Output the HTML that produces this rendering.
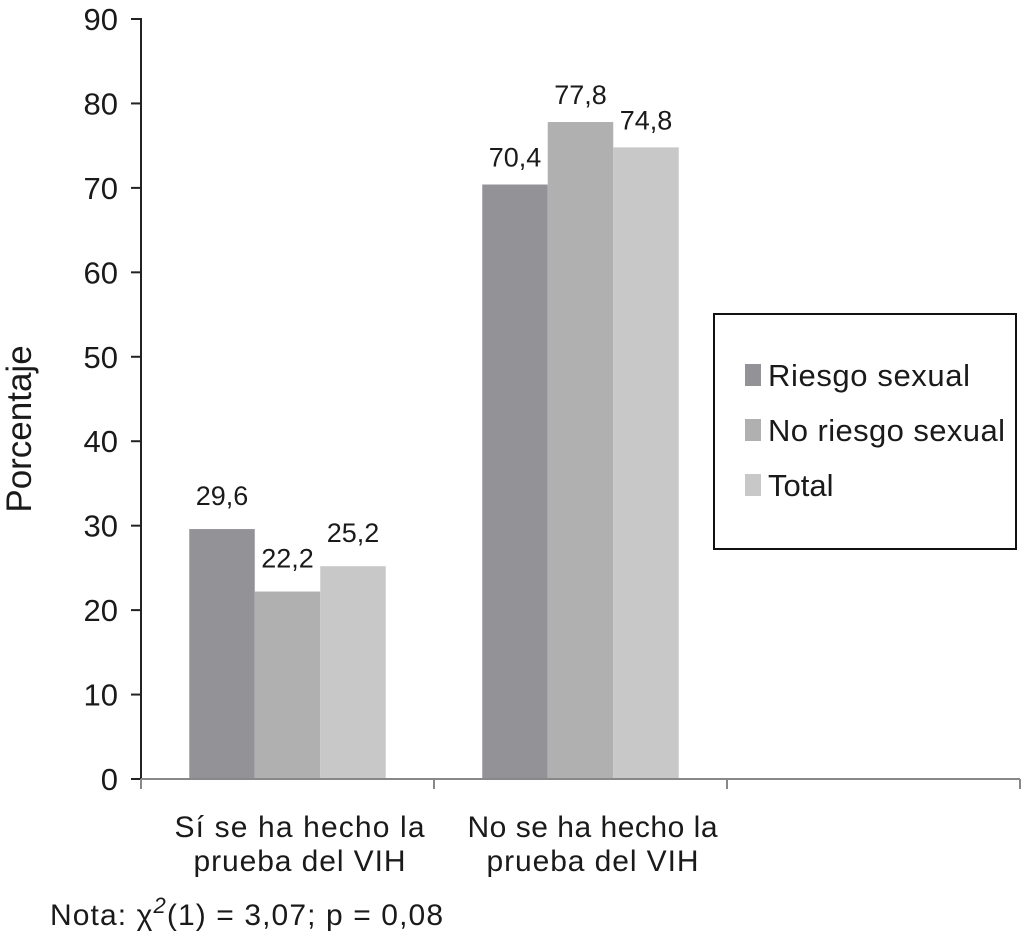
<!DOCTYPE html>
<html><head><meta charset="utf-8"><style>
body{margin:0;background:#fff;font-family:"Liberation Sans",sans-serif;}
svg text{font-family:"Liberation Sans",sans-serif;fill:#1a1a1a;}
</style></head><body>
<svg width="1024" height="933" viewBox="0 0 1024 933">
<g id="plot"></g>
<text x="31" y="429" font-size="35" text-anchor="middle" transform="rotate(-90 31 429)">Porcentaje</text>
<g>
<rect x="714" y="314" width="302" height="235" fill="#fff" stroke="#111" stroke-width="2"/>
<rect x="745" y="364" width="16" height="22" fill="#939397"/>
<text x="768" y="386" font-size="31" textLength="202">Riesgo sexual</text>
<rect x="745" y="419" width="16" height="22" fill="#b0b0b0"/>
<text x="768" y="441" font-size="31" textLength="237">No riesgo sexual</text>
<rect x="745" y="474" width="16" height="22" fill="#c8c8c8"/>
<text x="768" y="496" font-size="31">Total</text>
</g>
<text x="50" y="925" font-size="30" textLength="393">Nota: χ<tspan font-style="italic" baseline-shift="super" font-size="22">2</tspan>(1) = 3,07; p = 0,08</text>
</svg>
<script>
const categories=[["Sí se ha hecho la","prueba del VIH"],["No se ha hecho la","prueba del VIH"]];
const riesgo=[29.6,70.4];
const noRiesgo=[22.2,77.8];
const total=[25.2,74.8];
const yTicks=[0,10,20,30,40,50,60,70,80,90];
const series=[riesgo,noRiesgo,total];
const seriesNames=['riesgo','no-riesgo','total'];
const colors=['#939397','#b0b0b0','#c8c8c8'];
const NS='http://www.w3.org/2000/svg';
const g=document.getElementById('plot');
const x0=141,catW=293,nCat=3,barW=65.5;
const y=v=>779-v*(760/90);
function mk(t,a){const e=document.createElementNS(NS,t);for(const k in a)e.setAttribute(k,a[k]);g.appendChild(e);return e;}
series.forEach((s,si)=>s.forEach((v,ci)=>{
 const cx=x0+catW*(ci+0.5);const bx=cx-1.5*barW+si*barW;
 const r=mk('rect',{x:bx,y:y(v),width:barW,height:779-y(v),fill:colors[si]});
 
 
 const t=mk('text',{x:bx+barW/2,y:y(v)-(ci===0?24:18),'font-size':27,'text-anchor':'middle'});
 t.textContent=v.toFixed(1).replace('.',',');
 
 
}));
const ya=mk('line',{x1:x0,y1:18,x2:x0,y2:780,stroke:'#222','stroke-width':2});


const xa=mk('line',{x1:x0,y1:779,x2:1020,y2:779,stroke:'#888','stroke-width':2});


yTicks.forEach(v=>{
 const tk=mk('line',{x1:131,y1:y(v),x2:x0,y2:y(v),stroke:'#222','stroke-width':2});
 
 
 const t=mk('text',{x:118,y:y(v)+11,'font-size':31,'text-anchor':'end'});
 t.textContent=v;
 
 
});
for(let i=0;i<=nCat;i++){
 const tk=mk('line',{x1:x0+i*catW,y1:779,x2:x0+i*catW,y2:789,stroke:'#888','stroke-width':2});
 
 
}
categories.forEach((c,ci)=>{
 c.forEach((line,li)=>{
  const t=mk('text',{x:x0+catW*(ci+0.5)+12,y:837+li*34,'font-size':30,'text-anchor':'middle',textLength:li===0?250:212});
  t.textContent=line;
  
  
 });
});
</script>
</body></html>
